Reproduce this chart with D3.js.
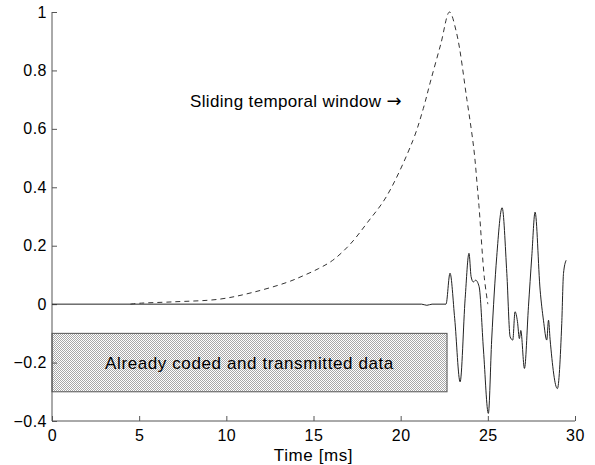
<!DOCTYPE html>
<html>
<head>
<meta charset="utf-8">
<script src="https://cdn.jsdelivr.net/npm/d3@7"></script>
<style>
  body { margin: 0; background: #fff; }
  svg { display: block; }
  text { font-family: "Liberation Sans", Arial, sans-serif; }
</style>
</head>
<body>
<svg id="chart"></svg>
<script>
// sliding window (time in ms, amplitude)
const windowTime = [4.5, 5, 7, 9.6, 11.5, 13.5, 14.4, 15.3, 16.1, 17.1, 18.1, 19.2, 20.7, 21.3, 21.7, 22.3, 22.8, 23.2, 23.8, 24.2, 24.4, 24.5, 24.8, 25.0];
const windowValue = [0, 0.003, 0.008, 0.017, 0.04, 0.075, 0.097, 0.122, 0.15, 0.205, 0.28, 0.37, 0.56, 0.67, 0.76, 0.89, 1.0, 0.93, 0.7, 0.53, 0.4, 0.33, 0.09, 0];

// speech signal
const signalTime = [0, 21.2, 21.5, 21.8, 22.6, 22.83, 23.1, 23.41, 23.7, 23.92, 24.04, 24.17, 24.3, 24.5, 24.75, 25.03, 25.22, 25.51, 25.82, 26.09, 26.28, 26.43, 26.56, 26.7, 26.81, 26.89, 27.1, 27.33, 27.52, 27.71, 28.0, 28.19, 28.38, 28.48, 28.57, 28.99, 29.24, 29.34, 29.49];
const signalValue = [0, 0, -0.004, 0, 0, 0.106, -0.05, -0.266, 0.02, 0.174, 0.094, 0.076, 0.082, 0.06, -0.157, -0.374, -0.123, 0.162, 0.33, 0.105, -0.112, -0.123, -0.026, -0.06, -0.118, -0.09, -0.22, -0.009, 0.162, 0.315, 0.048, -0.055, -0.123, -0.055, -0.12, -0.289, -0.066, 0.105, 0.15];

// already coded block
const blockStart = 0, blockEnd = 22.66, blockTop = -0.1, blockBottom = -0.3;

const xTicks = [0, 5, 10, 15, 20, 25, 30];
const yTicks = [-0.4, -0.2, 0, 0.2, 0.4, 0.6, 0.8, 1];

const width = 595, height = 465;
const margin = { top: 12, right: 20, bottom: 44, left: 52 };
const font = "'Liberation Sans', Arial, sans-serif";

const svg = d3.select("#chart").attr("width", width).attr("height", height);

const x = d3.scaleLinear().domain([0, 30]).range([margin.left, width - margin.right]);
const y = d3.scaleLinear().domain([-0.4, 1]).range([height - margin.bottom, margin.top]);

// stipple pattern for the block
const pat = svg.append("defs").append("pattern")
  .attr("id", "dots").attr("width", 2).attr("height", 2)
  .attr("patternUnits", "userSpaceOnUse");
pat.append("rect").attr("width", 2).attr("height", 2).attr("fill", "#fff");
pat.append("rect").attr("x", 0).attr("y", 0).attr("width", 1).attr("height", 1).attr("fill", "#a8a8a8");
pat.append("rect").attr("x", 1).attr("y", 1).attr("width", 1).attr("height", 1).attr("fill", "#a8a8a8");

svg.append("rect")
  .attr("x", x(blockStart)).attr("y", y(blockTop))
  .attr("width", x(blockEnd) - x(blockStart))
  .attr("height", y(blockBottom) - y(blockTop))
  .attr("fill", "url(#dots)")
  .attr("stroke", "#555").attr("stroke-width", 1);

svg.append("text")
  .attr("x", (x(blockStart) + x(blockEnd)) / 2)
  .attr("y", y((blockTop + blockBottom) / 2))
  .attr("dy", "0.35em")
  .attr("text-anchor", "middle")
  .attr("font-size", "17px").attr("letter-spacing", "0.6px")
  .text("Already coded and transmitted data");

// axes
const xAxis = d3.axisBottom(x).tickValues(xTicks).tickSize(-5).tickPadding(9).tickFormat(d3.format("d"));
const yAxis = d3.axisLeft(y).tickValues(yTicks).tickSize(-5).tickPadding(5)
  .tickFormat(d => d === 0 ? "0" : d3.format("")(d).replace("-", "\u2212"));

const gx = svg.append("g").attr("transform", `translate(0,${y(-0.4)})`).call(xAxis);
const gy = svg.append("g").attr("transform", `translate(${x(0)},0)`).call(yAxis);
[gx, gy].forEach(g => {
  g.select(".domain").attr("stroke", "#555");
  g.selectAll(".tick line").attr("stroke", "#555");
  g.selectAll(".tick text").attr("font-size", "16px").attr("fill", "#000")
    .attr("letter-spacing", "0.5px").attr("font-family", font);
});
gx.select(".domain").attr("d", `M${x(0)},0H${x(30)}`);
gy.select(".domain").attr("d", `M0,${y(1)}V${y(-0.4)}`);

svg.append("text")
  .attr("x", (x(0) + x(30)) / 2).attr("y", height - 4)
  .attr("text-anchor", "middle").attr("font-size", "17px").attr("letter-spacing", "0.6px")
  .text("Time [ms]");

// signal
const line = d3.line().x(d => x(d[0])).y(d => y(d[1])).curve(d3.curveMonotoneX);
svg.append("path")
  .datum(d3.zip(signalTime, signalValue))
  .attr("fill", "none").attr("stroke", "#222").attr("stroke-width", 1)
  .attr("d", line);

// window
const smooth = d3.line().x(d => x(d[0])).y(d => y(d[1])).curve(d3.curveCatmullRom);
svg.append("path")
  .datum(d3.zip(windowTime, windowValue))
  .attr("fill", "none").attr("stroke", "#333").attr("stroke-width", 1)
  .attr("stroke-dasharray", "5,4")
  .attr("d", smooth);

const label = svg.append("text")
  .attr("x", 190).attr("y", y(0.675))
  .attr("font-size", "17px").attr("letter-spacing", "0.35px");
label.append("tspan").text("Sliding temporal window ");
label.append("tspan")
  .attr("font-family", "'DejaVu Sans', sans-serif").attr("font-size", "18px")
  .attr("letter-spacing", "0")
  .text("\u2192");
</script>
</body>
</html>
